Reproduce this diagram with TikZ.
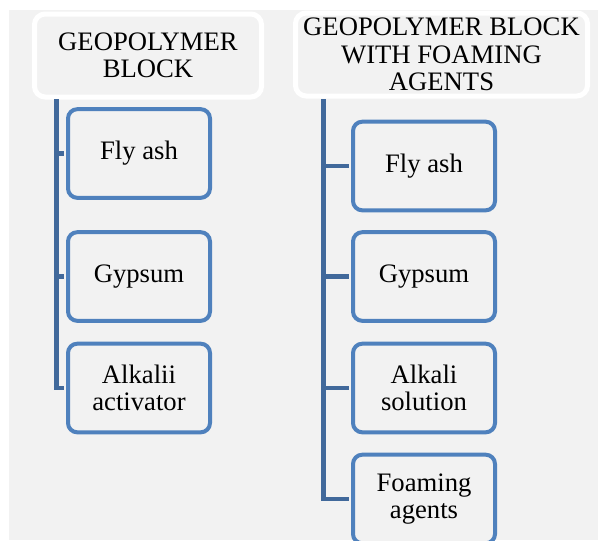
\documentclass[tikz,border=0pt]{standalone}
\usepackage{fontspec}
\setmainfont{Liberation Serif}
\usepackage[dvipsnames]{xcolor}
\definecolor{panel}{HTML}{F2F2F2}
\definecolor{boxblue}{HTML}{4F81BD}
\definecolor{linkblue}{HTML}{41699B}

\begin{document}
\begin{tikzpicture}[x=0.75pt,y=-0.75pt,
  head node/.style={draw=white,line width=3.75pt,fill=panel,rounded corners=8pt,align=center,inner sep=0pt,minimum height=62.25pt,font=\fontsize{20}{20.6}\selectfont},
  item node/.style={draw=boxblue,line width=3pt,fill=panel,rounded corners=7pt,align=center,inner sep=0pt,minimum width=106.5pt,minimum height=66.5pt,font=\fontsize{20}{20.6}\selectfont},
  link/.style={draw=linkblue,line width=3.6pt,shorten >=1.5pt}]

            \useasboundingbox (0,0) rectangle (598,540);
            \clip (0,0) rectangle (598,540);
            \fill[panel] (9,10) rectangle (598,540);

            % the two header boxes
            \node[head node, minimum width=170.25pt] (hdrL) at (148,55.5) {GEOPOLYMER\\BLOCK};
            \node[head node, minimum width=219pt] (hdrR) at (441.5,54.5) {GEOPOLYMER BLOCK\\WITH FOAMING\\AGENTS};

            % left column
            \node[item node] (flyL) at (139,153.5) {Fly ash};
            \node[item node] (gypL) at (139,276.5) {Gypsum};
            \node[item node] (alkL) at (139,388) {Alkalii\\activator};

            % right column
            \node[item node] (flyR) at (424,166) {Fly ash};
            \node[item node] (gypR) at (424,276.5) {Gypsum};
            \node[item node] (alkR) at (424,388) {Alkali\\solution};
            \node[item node] (foamR) at (424,499) {Foaming\\agents};

            \coordinate (trunkL) at (56.5,99);
            \coordinate (trunkR) at (323.5,99);

            \draw[link] (trunkL) |- (alkL.west);
            \draw[link] (trunkL |- flyL.west) -- (flyL.west);
            \draw[link] (trunkL |- gypL.west) -- (gypL.west);

            \draw[link] (trunkR) |- (foamR.west);
            \draw[link] (trunkR |- flyR.west) -- (flyR.west);
            \draw[link] (trunkR |- gypR.west) -- (gypR.west);
            \draw[link] (trunkR |- alkR.west) -- (alkR.west);

        \end{tikzpicture}
\end{document}
